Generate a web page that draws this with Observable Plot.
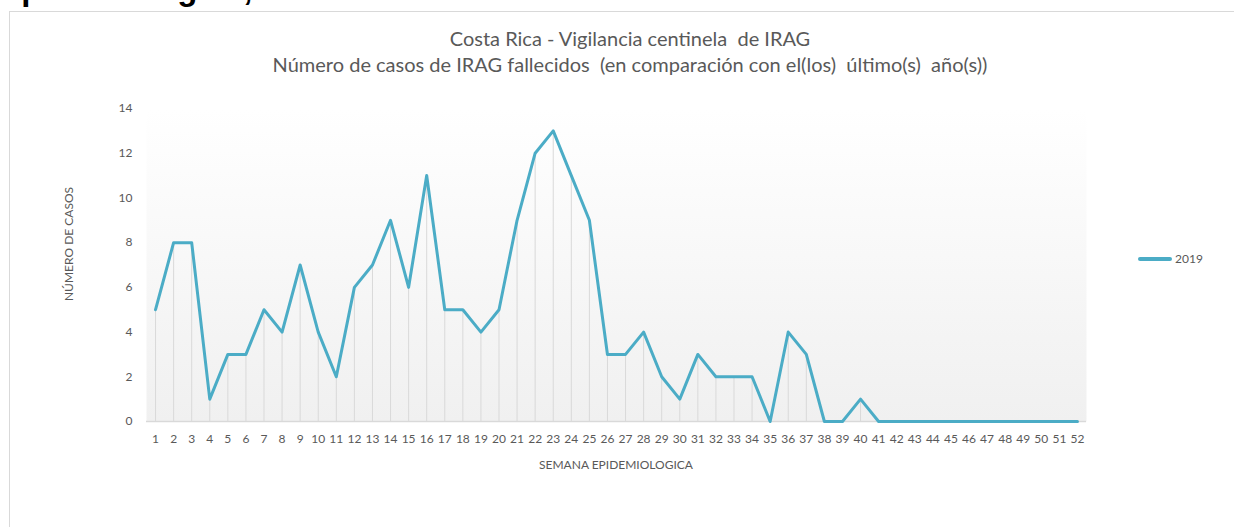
<!DOCTYPE html>
<html>
<head>
<meta charset="utf-8">
<script src="https://cdn.jsdelivr.net/npm/d3@7"></script>
<script src="https://cdn.jsdelivr.net/npm/@observablehq/plot@0.6"></script>
<style>
  html, body { margin: 0; padding: 0; }
  body { width: 1234px; height: 527px; overflow: hidden; background: #ffffff; position: relative; font-family: Lato, "Open Sans", sans-serif; color: #595959; }
  #heading { position: absolute; left: 3px; top: -28px; font: bold 33px/33px "Liberation Sans", Arial, sans-serif; color: #000; white-space: nowrap; }
  #box { position: absolute; left: 9px; top: 11px; width: 1400px; height: 700px; border: 1px solid #d9d9d9; box-sizing: border-box; }
  .title { position: absolute; left: 0; width: 1260px; text-align: center; font-size: 20px; line-height: 22px; white-space: pre; }
  #chart { position: absolute; left: 0; top: 0; }
  #ylabel { position: absolute; left: 67.5px; top: 243.5px; transform: translate(-50%, -50%) rotate(-90deg); font-size: 12px; white-space: nowrap; }
  #xlabel { position: absolute; left: 616px; top: 464px; transform: translate(-50%, -50%); font-size: 12px; white-space: nowrap; }
  #legend { position: absolute; left: 1138px; top: 251px; display: flex; align-items: center; font-size: 12px; }
  #legend svg { display: block; margin-right: 3px; }
</style>
</head>
<body>
<div id="heading">epidemiológica, 2019</div>
<div id="box"></div>
<div class="title" id="t1" style="top:27px"></div>
<div class="title" id="t2" style="top:53px"></div>
<div id="chart"></div>
<div id="ylabel"></div>
<div id="xlabel"></div>
<div id="legend"></div>
<script>
// ---- data ----
const titleLine1 = "Costa Rica - Vigilancia centinela  de IRAG";
const titleLine2 = "Número de casos de IRAG fallecidos  (en comparación con el(los)  último(s)  año(s))";
const yAxisLabel = "NÚMERO DE CASOS";
const xAxisLabel = "SEMANA EPIDEMIOLOGICA";
const seriesName = "2019";
const weeks = [1,2,3,4,5,6,7,8,9,10,11,12,13,14,15,16,17,18,19,20,21,22,23,24,25,26,
               27,28,29,30,31,32,33,34,35,36,37,38,39,40,41,42,43,44,45,46,47,48,49,50,51,52];
const cases2019 = [5,8,8,1,3,3,5,4,7,4,2,6,7,9,6,11,5,5,4,5,9,12,13,11,9,3,
                   3,4,2,1,3,2,2,2,0,4,3,0,0,1,0,0,0,0,0,0,0,0,0,0,0,0];
const yTicks = [0,2,4,6,8,10,12,14];

const lineColor = "#4BACC6";
const data = weeks.map((w, i) => ({week: w, value: cases2019[i]}));

document.getElementById("t1").textContent = titleLine1;
document.getElementById("t2").textContent = titleLine2;
document.getElementById("ylabel").textContent = yAxisLabel;
document.getElementById("xlabel").textContent = xAxisLabel;
document.getElementById("legend").innerHTML =
  `<svg width="34" height="8"><line x1="2" y1="4" x2="32" y2="4" stroke="${lineColor}" stroke-width="4" stroke-linecap="round"/></svg><span>${seriesName}</span>`;

const chart = Plot.plot({
  width: 1234,
  height: 527,
  marginLeft: 146,
  marginRight: 148,
  marginTop: 108,
  marginBottom: 106,
  style: {background: "transparent", fontFamily: "Lato, sans-serif", fontSize: "12px", color: "#595959"},
  x: {type: "point", domain: weeks, padding: 0.5, round: false, label: null, tickSize: 0, tickPadding: 13},
  y: {domain: [0, 14], ticks: yTicks, label: null, tickSize: 0, tickPadding: 14},
  marks: [
    Plot.frame({fill: "url(#plotbg)"}),
    Plot.ruleX(data, {x: "week", y1: 0, y2: "value", stroke: "#d9d9d9", strokeWidth: 1}),
    Plot.ruleY([0], {stroke: "#d9d9d9", strokeWidth: 1.5}),
    Plot.line(data, {x: "week", y: "value", stroke: lineColor, strokeWidth: 3, strokeLinejoin: "round"})
  ]
});

const svg = d3.select(chart);
const grad = svg.insert("defs", ":first-child").append("linearGradient")
  .attr("id", "plotbg").attr("x1", 0).attr("y1", 0).attr("x2", 0).attr("y2", 1);
grad.append("stop").attr("offset", "0%").attr("stop-color", "#ffffff");
grad.append("stop").attr("offset", "100%").attr("stop-color", "#f0f0f0");

document.getElementById("chart").appendChild(chart);
</script>
</body>
</html>
